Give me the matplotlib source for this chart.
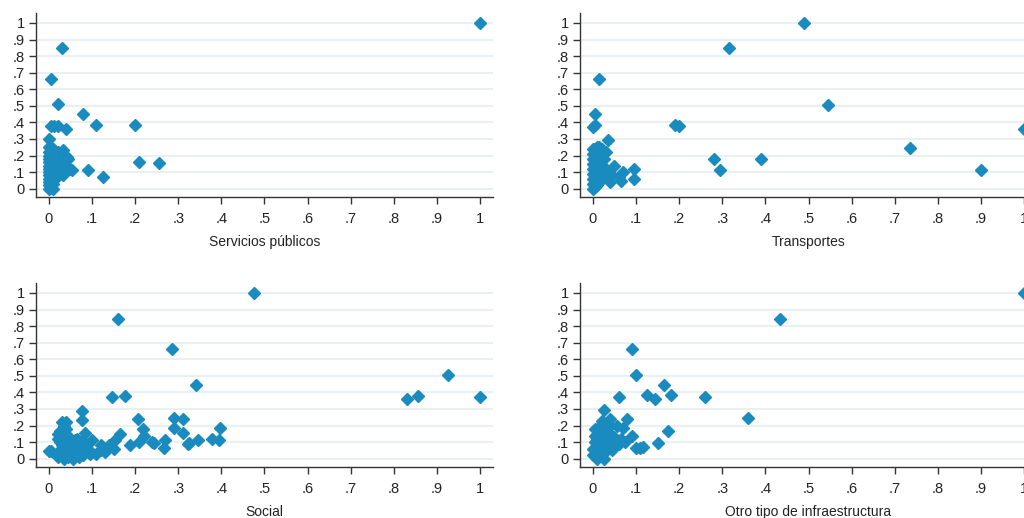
import matplotlib
matplotlib.use("Agg")
import matplotlib.pyplot as plt

plt.rcParams["font.family"] = ["Liberation Sans", "DejaVu Sans"]

# --- data (x per sector, y shared index) ---
servicios_x = [1.0, 0.03, 0.005, 0.02, 0.08, 0.11, 0.20, 0.005, 0.012, 0.02,
               0.04, 0.0, 0.21, 0.255, 0.09, 0.125, 0.05, 0.04, 0.03, 0.033,
               0.042, 0.03, 0.053, 0.033, 0.045, 0.02,
               0.0, 0.0, 0.0, 0.0, 0.0, 0.0, 0.0, 0.0, 0.0, 0.0,
               0.0, 0.0, 0.005, 0.005, 0.005, 0.005, 0.005, 0.005, 0.01, 0.01,
               0.01, 0.01, 0.01, 0.015, 0.015, 0.015, 0.02, 0.02, 0.025, 0.0,
               0.005, 0.01]
servicios_y = [1.0, 0.85, 0.66, 0.51, 0.45, 0.385, 0.385, 0.38, 0.38, 0.38,
               0.36, 0.30, 0.16, 0.155, 0.11, 0.07, 0.12, 0.11, 0.10, 0.235,
               0.19, 0.15, 0.115, 0.085, 0.18, 0.22,
               0.0, 0.02, 0.04, 0.06, 0.08, 0.10, 0.12, 0.14, 0.16, 0.18,
               0.20, 0.22, 0.01, 0.05, 0.09, 0.13, 0.17, 0.21, 0.03, 0.07,
               0.11, 0.15, 0.24, 0.06, 0.12, 0.19, 0.10, 0.16, 0.13, 0.25,
               0.25, 0.0]

transportes_x = [0.49, 0.315, 0.015, 0.545, 0.005, 0.005, 0.0, 0.19, 0.20, 1.0,
                 0.035, 0.735, 0.28, 0.39, 0.295, 0.90, 0.03, 0.03, 0.05, 0.045,
                 0.04, 0.07, 0.065, 0.095, 0.095, 0.06, 0.02, 0.025, 0.02, 0.035,
                 0.0, 0.0, 0.0, 0.0, 0.0, 0.0, 0.0, 0.0, 0.005, 0.005,
                 0.005, 0.005, 0.005, 0.005, 0.01, 0.01, 0.01, 0.01, 0.01, 0.015,
                 0.015, 0.015, 0.015, 0.02, 0.02, 0.02, 0.025, 0.01, 0.0, 0.015]
transportes_y = [1.0, 0.85, 0.66, 0.505, 0.45, 0.385, 0.375, 0.385, 0.38, 0.36,
                 0.295, 0.245, 0.18, 0.18, 0.115, 0.115, 0.22, 0.12, 0.14, 0.08,
                 0.04, 0.10, 0.045, 0.12, 0.06, 0.07, 0.24, 0.18, 0.14, 0.06,
                 0.0, 0.03, 0.06, 0.09, 0.12, 0.15, 0.18, 0.21, 0.01, 0.05,
                 0.10, 0.14, 0.19, 0.24, 0.02, 0.07, 0.12, 0.17, 0.22, 0.04,
                 0.09, 0.15, 0.25, 0.06, 0.11, 0.20, 0.08, 0.25, 0.24, 0.20]

social_x = [0.475, 0.16, 0.285, 0.925, 0.855, 0.83, 1.0, 0.34, 0.146, 0.176,
            0.077, 0.077, 0.084, 0.207, 0.29, 0.31, 0.29, 0.31, 0.218, 0.22,
            0.21, 0.397, 0.395, 0.378, 0.346, 0.322, 0.326, 0.244, 0.27, 0.267,
            0.165, 0.153, 0.188, 0.14, 0.13, 0.12, 0.12, 0.10, 0.24, 0.0,
            0.005, 0.03, 0.026, 0.02, 0.11, 0.15, 0.095, 0.09,
            0.02, 0.025, 0.025, 0.03, 0.03, 0.03, 0.035, 0.035, 0.035, 0.04,
            0.04, 0.04, 0.045, 0.045, 0.05, 0.05, 0.055, 0.055, 0.06, 0.06,
            0.065, 0.065, 0.07, 0.07, 0.075, 0.075, 0.08, 0.08, 0.085, 0.05,
            0.035, 0.045, 0.02, 0.06, 0.04]
social_y = [1.0, 0.845, 0.66, 0.505, 0.38, 0.36, 0.375, 0.445, 0.37, 0.38,
            0.29, 0.235, 0.155, 0.24, 0.245, 0.24, 0.185, 0.155, 0.18, 0.14,
            0.10, 0.185, 0.115, 0.12, 0.115, 0.09, 0.095, 0.095, 0.115, 0.065,
            0.15, 0.11, 0.085, 0.085, 0.04, 0.05, 0.08, 0.11, 0.10, 0.048,
            0.045, 0.22, 0.17, 0.15, 0.03, 0.06, 0.03, 0.06,
            0.01, 0.05, 0.10, 0.02, 0.08, 0.13, 0.0, 0.05, 0.11, 0.03,
            0.07, 0.18, 0.01, 0.09, 0.04, 0.12, 0.0, 0.06, 0.02, 0.09,
            0.05, 0.12, 0.01, 0.07, 0.04, 0.10, 0.02, 0.06, 0.09, 0.08,
            0.20, 0.14, 0.12, 0.11, 0.22]

otro_x = [1.0, 0.435, 0.09, 0.10, 0.165, 0.18, 0.125, 0.145, 0.06, 0.26,
          0.36, 0.025, 0.08, 0.07, 0.09, 0.175, 0.15, 0.10, 0.115, 0.11,
          0.04, 0.02, 0.005, 0.075, 0.06, 0.05, 0.045, 0.065, 0.055, 0.035,
          0.0, 0.005, 0.005, 0.005, 0.01, 0.01, 0.01, 0.01, 0.015, 0.015,
          0.02, 0.02, 0.02, 0.025, 0.025, 0.03, 0.03, 0.035, 0.035, 0.04,
          0.04, 0.045, 0.05, 0.015, 0.03, 0.0, 0.02, 0.04, 0.01, 0.025]
otro_y = [1.0, 0.845, 0.66, 0.505, 0.445, 0.385, 0.385, 0.36, 0.375, 0.375,
          0.245, 0.295, 0.24, 0.185, 0.14, 0.17, 0.095, 0.065, 0.07, 0.065,
          0.24, 0.23, 0.18, 0.10, 0.09, 0.13, 0.05, 0.12, 0.20, 0.19,
          0.02, 0.05, 0.10, 0.14, 0.0, 0.03, 0.08, 0.12, 0.05, 0.16,
          0.02, 0.07, 0.11, 0.04, 0.14, 0.09, 0.17, 0.06, 0.12, 0.10,
          0.15, 0.08, 0.11, 0.19, 0.21, 0.06, 0.18, 0.20, 0.15, 0.0]

titles = ["Servicios públicos", "Transportes", "Social", "Otro tipo de infraestructura"]
ticks = [i / 10 for i in range(11)]
tick_labels = ["0"] + [f".{i}" for i in range(1, 10)] + ["1"]

MARK = "#1a8bbf"
GRID = "#e6eff2"
W, H = 1024, 518


def place(fig, left, top, right, bottom):
    """Axes from pixel box (origin top-left)."""
    return fig.add_axes([left / W, 1 - bottom / H, (right - left) / W, (bottom - top) / H])


fig = plt.figure(figsize=(W / 100, H / 100), dpi=100)
boxes = [(36, 13, 493, 197), (580, 13, 1037, 197),
         (36, 283, 493, 467), (580, 283, 1037, 467)]
data = [(servicios_x, servicios_y), (transportes_x, transportes_y),
        (social_x, social_y), (otro_x, otro_y)]

for box, (xs, ys), title in zip(boxes, data, titles):
    ax = place(fig, *box)
    ax.set_xlim(-0.03, 1.03)
    ax.set_ylim(-0.05, 1.06)
    for t in ticks:
        ax.axhline(t, color=GRID, lw=1.3, zorder=0)
    ax.plot(xs, ys, linestyle="none", marker="D", ms=6, color=MARK,
            markeredgecolor=MARK, clip_on=False, zorder=3)
    ax.set_xticks(ticks)
    ax.set_xticklabels(tick_labels)
    ax.set_yticks(ticks)
    ax.set_yticklabels(tick_labels)
    ax.tick_params(length=5, width=1, color="#333333", labelsize=10.5,
                   labelcolor="#222222", pad=3)
    ax.tick_params(axis="x", pad=6)
    for side in ("top", "right"):
        ax.spines[side].set_visible(False)
    for side in ("left", "bottom"):
        ax.spines[side].set_color("#333333")
        ax.spines[side].set_linewidth(1)
    ax.set_xlabel(title, fontsize=10, color="#222222", labelpad=6)

fig.savefig("out.png", dpi=100)
